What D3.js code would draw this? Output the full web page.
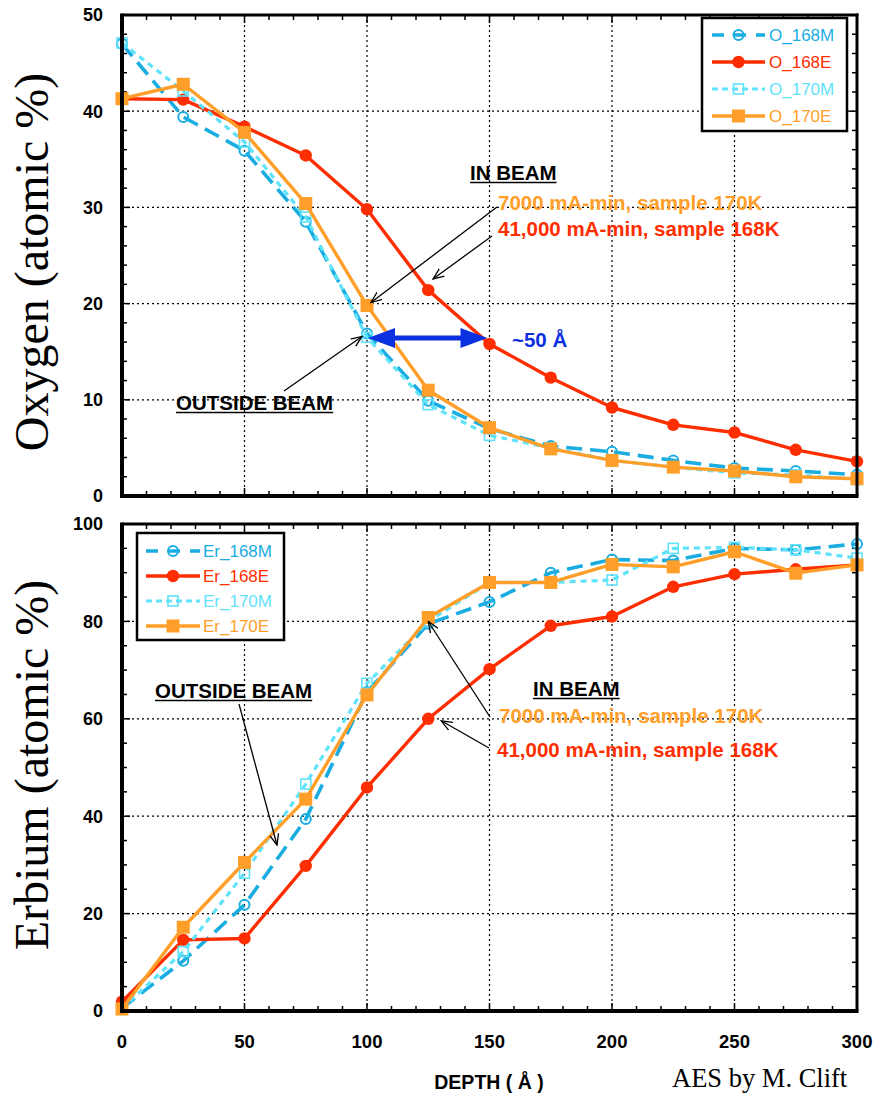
<!DOCTYPE html>
<html>
<head>
<meta charset="utf-8">
<script src="https://cdn.jsdelivr.net/npm/d3@7"></script>
<style>
  html, body { margin: 0; padding: 0; background: #fff; }
  svg { display: block; }
</style>
</head>
<body>
<svg id="chart" width="876" height="1095"></svg>
<script>
// AES depth profiles: oxygen and erbium content vs sputter depth
const depth = [0, 25, 50, 75, 100, 125, 150, 175, 200, 225, 250, 275, 300];

const O_168M = [47.0, 39.4, 35.9, 28.5, 16.9, 9.9, 7.0, 5.2, 4.6, 3.7, 2.9, 2.6, 2.2];
const O_168E = [41.3, 41.2, 38.4, 35.4, 29.8, 21.4, 15.8, 12.3, 9.2, 7.4, 6.6, 4.8, 3.6];
const O_170M = [47.1, 42.1, 36.8, 29.0, 16.5, 9.5, 6.3, 5.0, 3.7, 3.0, 2.4, 2.2, 1.7];
const O_170E = [41.3, 42.8, 37.8, 30.4, 19.8, 11.0, 7.1, 4.9, 3.7, 3.0, 2.6, 2.0, 1.8];

const Er_168M = [0.6, 10.3, 21.8, 39.4, 65.5, 79.5, 84.0, 90.0, 92.7, 92.5, 95.0, 94.7, 95.9];
const Er_168E = [1.9, 14.6, 14.9, 29.8, 45.9, 60.0, 70.2, 79.1, 81.0, 87.1, 89.7, 90.7, 91.6];
const Er_170M = [0.5, 12.2, 28.3, 46.6, 67.3, 80.0, 88.0, 88.0, 88.5, 95.0, 95.2, 94.7, 93.0];
const Er_170E = [0.4, 17.2, 30.5, 43.5, 64.9, 80.8, 88.0, 88.0, 91.7, 91.2, 94.3, 89.9, 91.6];

const xTicks = [0, 50, 100, 150, 200, 250, 300];
const oTicks = [0, 10, 20, 30, 40, 50];
const erTicks = [0, 20, 40, 60, 80, 100];

const oNames = ["O_168M", "O_168E", "O_170M", "O_170E"];
const erNames = ["Er_168M", "Er_168E", "Er_170M", "Er_170E"];

// series styles (shared by both panels, in legend order)
const styles = [
  { color: "#1aade2", width: 3.6, dash: "16,8", marker: "openCircle" },
  { color: "#ff2e00", width: 3.4, dash: null, marker: "dot" },
  { color: "#5fe3fb", width: 3.2, dash: "6,5", marker: "openSquare" },
  { color: "#ff9f2a", width: 3.4, dash: null, marker: "square" }
];

const svg = d3.select("#chart");
const sans = "'Liberation Sans', Arial, Helvetica, sans-serif";
const serif = "'Liberation Serif', 'Times New Roman', Times, serif";

const x = d3.scaleLinear().domain([0, 300]).range([122, 857]);
const yO = d3.scaleLinear().domain([0, 50]).range([496, 15]);
const yEr = d3.scaleLinear().domain([0, 100]).range([1011, 524]);

// arrow markers
const defs = svg.append("defs");
defs.append("marker")
  .attr("id", "openArrow").attr("viewBox", "0 0 12 12")
  .attr("refX", 11).attr("refY", 6)
  .attr("markerWidth", 12).attr("markerHeight", 12)
  .attr("markerUnits", "userSpaceOnUse")
  .attr("orient", "auto")
  .append("path").attr("d", "M0,1.5 L11,6 L0,10.5")
  .attr("fill", "none").attr("stroke", "#000").attr("stroke-width", 1.3);

function drawMarker(g, kind, cx, cy, color, scale = 1) {
  if (kind === "openCircle") {
    g.append("circle").attr("cx", cx).attr("cy", cy).attr("r", 5 * scale)
      .attr("fill", "none").attr("stroke", color).attr("stroke-width", 2);
  } else if (kind === "dot") {
    g.append("circle").attr("cx", cx).attr("cy", cy).attr("r", 6.2 * scale)
      .attr("fill", color);
  } else if (kind === "openSquare") {
    const s = 10 * scale;
    g.append("rect").attr("x", cx - s / 2).attr("y", cy - s / 2)
      .attr("width", s).attr("height", s)
      .attr("fill", "none").attr("stroke", color).attr("stroke-width", 1.6);
  } else {
    const s = 13 * scale;
    g.append("rect").attr("x", cx - s / 2).attr("y", cy - s / 2)
      .attr("width", s).attr("height", s).attr("fill", color);
  }
}

function panel(y, seriesList, names, yTickVals, yMinorStep, legendPos) {
  const [x0, x1] = x.range();
  const [yb, yt] = y.range();
  const g = svg.append("g");

  // dotted grid at major ticks
  const grid = g.append("g").attr("stroke", "#000").attr("stroke-width", 1.2)
    .attr("stroke-dasharray", "2,3");
  xTicks.slice(1, -1).forEach(v => {
    grid.append("line").attr("x1", x(v)).attr("x2", x(v)).attr("y1", yt).attr("y2", yb);
  });
  yTickVals.slice(1, -1).forEach(v => {
    grid.append("line").attr("x1", x0).attr("x2", x1).attr("y1", y(v)).attr("y2", y(v));
  });

  // inward ticks on all four sides
  const ticks = g.append("g").attr("stroke", "#000").attr("stroke-width", 1.5);
  d3.range(0, 301, 10).forEach(v => {
    const len = v % 50 === 0 ? 8 : 5;
    ticks.append("line").attr("x1", x(v)).attr("x2", x(v)).attr("y1", yb).attr("y2", yb - len);
    ticks.append("line").attr("x1", x(v)).attr("x2", x(v)).attr("y1", yt).attr("y2", yt + len);
  });
  const yMax = y.domain()[1];
  d3.range(0, yMax + 0.001, yMinorStep).forEach(v => {
    const major = yTickVals.includes(v);
    const len = major ? 8 : 5;
    ticks.append("line").attr("x1", x0).attr("x2", x0 + len).attr("y1", y(v)).attr("y2", y(v));
    ticks.append("line").attr("x1", x1).attr("x2", x1 - len).attr("y1", y(v)).attr("y2", y(v));
  });

  // series
  const line = d3.line().x(d => x(d[0])).y(d => y(d[1]));
  seriesList.forEach((vals, i) => {
    const st = styles[i];
    const pts = depth.map((d, k) => [d, vals[k]]);
    g.append("path").datum(pts).attr("d", line)
      .attr("fill", "none").attr("stroke", st.color)
      .attr("stroke-width", st.width)
      .attr("stroke-dasharray", st.dash)
      .attr("stroke-linejoin", "round").attr("stroke-linecap", st.dash ? "butt" : "round");
    const mg = g.append("g");
    pts.forEach(p => drawMarker(mg, st.marker, x(p[0]), y(p[1]), st.color));
  });

  // frame
  g.append("line").attr("x1", x0).attr("x2", x0).attr("y1", yt - 1.5).attr("y2", yb + 2)
    .attr("stroke", "#000").attr("stroke-width", 4);
  g.append("line").attr("x1", x0 - 2).attr("x2", x1 + 1.5).attr("y1", yb).attr("y2", yb)
    .attr("stroke", "#000").attr("stroke-width", 4);
  g.append("line").attr("x1", x1).attr("x2", x1).attr("y1", yt - 1.5).attr("y2", yb)
    .attr("stroke", "#000").attr("stroke-width", 3);
  g.append("line").attr("x1", x0).attr("x2", x1 + 1.5).attr("y1", yt).attr("y2", yt)
    .attr("stroke", "#000").attr("stroke-width", 3);

  // y tick labels
  g.append("g").selectAll("text").data(yTickVals).join("text")
    .attr("x", 103).attr("y", d => y(d))
    .attr("dy", "0.36em").attr("text-anchor", "end")
    .attr("font-family", sans).attr("font-weight", "bold").attr("font-size", 18)
    .text(d => d);

  // legend
  const lg = g.append("g");
  lg.append("rect").attr("x", legendPos.x).attr("y", legendPos.y)
    .attr("width", legendPos.w).attr("height", legendPos.h)
    .attr("fill", "#fff").attr("stroke", "#000").attr("stroke-width", 2.5);
  names.forEach((name, i) => {
    const st = styles[i];
    const ry = legendPos.rows[i];
    const lx0 = legendPos.lineX0, lx1 = legendPos.lineX1;
    lg.append("line").attr("x1", lx0).attr("x2", lx1).attr("y1", ry).attr("y2", ry)
      .attr("stroke", st.color).attr("stroke-width", st.width)
      .attr("stroke-dasharray", st.dash ? (i === 0 ? "12,10" : "6,4") : null);
    drawMarker(lg, st.marker, (lx0 + lx1) / 2, ry, st.color);
    lg.append("text").attr("x", legendPos.textX).attr("y", ry).attr("dy", "0.36em")
      .attr("font-family", sans).attr("font-size", 17).attr("fill", st.color)
      .text(name);
  });
  return g;
}

panel(yO, [O_168M, O_168E, O_170M, O_170E], oNames, oTicks, 2,
  { x: 702, y: 18, w: 145, h: 113, rows: [35, 62, 89, 116], lineX0: 712, lineX1: 765, textX: 769 });
panel(yEr, [Er_168M, Er_168E, Er_170M, Er_170E], erNames, erTicks, 5,
  { x: 137, y: 533, w: 147, h: 107, rows: [551, 576, 601, 626], lineX0: 146, lineX1: 200, textX: 203 });

// x tick labels under the lower panel
svg.append("g").selectAll("text").data(xTicks).join("text")
  .attr("x", d => x(d)).attr("y", 1048).attr("text-anchor", "middle")
  .attr("font-family", sans).attr("font-weight", "bold").attr("font-size", 18.5)
  .text(d => d);

// axis titles
svg.append("text").attr("transform", "translate(48,262) rotate(-90)")
  .attr("text-anchor", "middle").attr("font-family", serif).attr("font-size", 48)
  .text("Oxygen (atomic %)");
svg.append("text").attr("transform", "translate(48,765) rotate(-90)")
  .attr("text-anchor", "middle").attr("font-family", serif).attr("font-size", 48)
  .text("Erbium (atomic %)");
svg.append("text").attr("x", 489).attr("y", 1089).attr("text-anchor", "middle")
  .attr("font-family", sans).attr("font-weight", "bold").attr("font-size", 19.5)
  .text("DEPTH ( Å )");
svg.append("text").attr("x", 672).attr("y", 1087)
  .attr("font-family", serif).attr("font-size", 26.5)
  .text("AES by M. Clift");

// annotations
function label(xp, yp, txt, color, underline) {
  const t = svg.append("text").attr("x", xp).attr("y", yp)
    .attr("font-family", sans).attr("font-weight", "bold").attr("font-size", 20.5)
    .attr("fill", color).text(txt);
  if (underline) {
    const w = t.node().getComputedTextLength();
    svg.append("line").attr("x1", xp).attr("x2", xp + w).attr("y1", yp + 2.5).attr("y2", yp + 2.5)
      .attr("stroke", color).attr("stroke-width", 1.6);
  }
}
function arrow(xa, ya, xb, yb) {
  svg.append("line").attr("x1", xa).attr("y1", ya).attr("x2", xb).attr("y2", yb)
    .attr("stroke", "#000").attr("stroke-width", 1.3).attr("marker-end", "url(#openArrow)");
}

// upper panel
label(470, 180, "IN BEAM", "#000", true);
label(498, 210, "7000 mA-min, sample 170K", "#ff9f2a");
label(498, 236, "41,000 mA-min, sample 168K", "#ff2e00");
arrow(497, 207, x(100) + 4, yO(O_170E[4]) - 3);
arrow(492, 236, 433, 279);
label(176, 410, "OUTSIDE BEAM", "#000", true);
arrow(284, 391, x(100) - 5, yO(O_168M[4]) + 3);

// ~50 Å double arrow between the two oxygen profiles
const bandY = 338;
const blue = "#0b30e0";
const bx0 = x(100) + 1, bx1 = x(150) - 2;
svg.append("line").attr("x1", bx0 + 20).attr("x2", bx1 - 20).attr("y1", bandY).attr("y2", bandY)
  .attr("stroke", blue).attr("stroke-width", 5);
svg.append("path").attr("d", `M${bx0},${bandY} L${bx0 + 27},${bandY - 10} L${bx0 + 27},${bandY + 10} Z`).attr("fill", blue);
svg.append("path").attr("d", `M${bx1},${bandY} L${bx1 - 27},${bandY - 10} L${bx1 - 27},${bandY + 10} Z`).attr("fill", blue);
label(512, 347, "~50 Å", blue);

// lower panel
label(155, 698, "OUTSIDE BEAM", "#000", true);
arrow(239, 704, 277, 845);
label(533, 696, "IN BEAM", "#000", true);
label(499, 723, "7000 mA-min, sample 170K", "#ff9f2a");
label(497, 757, "41,000 mA-min, sample 168K", "#ff2e00");
arrow(490, 717, x(125), yEr(Er_170E[5]) + 4);
arrow(489, 748, x(125) + 13, yEr(Er_168E[5]) + 2);
</script>
</body>
</html>
